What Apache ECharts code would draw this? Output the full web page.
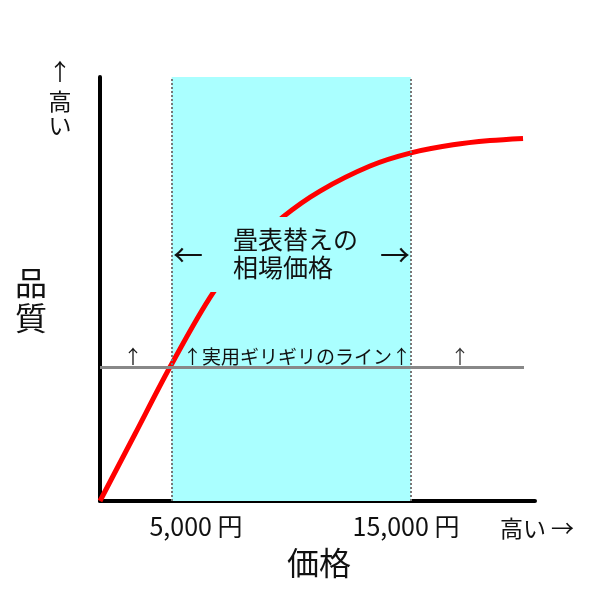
<!DOCTYPE html>
<html><head><meta charset="utf-8">
<script src="https://cdn.jsdelivr.net/npm/echarts@6/dist/echarts.min.js"></script>
<style>html,body{margin:0;padding:0;background:#fff}#c{width:600px;height:600px}</style>
</head><body><div id="c"></div>
<script>
// price (conceptual yen scale) and quality (0-100)
const priceX = [2000, 3464, 4929, 6728, 8276, 9657, 11205, 13297, 15012, 16770, 18318, 19699];
const quality = [0, 15.8, 31.6, 49.1, 59.7, 67.0, 73.1, 79.0, 82.1, 84.0, 85.0, 85.5];
const bandRange = [5000, 15000];
const minimumQuality = 31.6;
const minimumLineRange = [2000, 19740];
const tickLabels = ['5,000 円', '15,000 円'];
const bandLabel = ['畳表替えの', '相場価格'];
const minimumLabel = '↑実用ギリギリのライン↑';

const FONT = '"Noto Sans CJK JP", "Noto Sans", sans-serif';
const chart = echarts.init(document.getElementById('c'));
function txt(x, y, s, size, align, color, z) {
  return { type: 'text', x: x, y: y, z: z || 100,
    style: { text: s, fontSize: size, fontFamily: FONT, fill: color || '#111',
      textAlign: align || 'center', textVerticalAlign: 'middle' } };
}
chart.setOption({
  animation: false,
  grid: { left: 100, right: 65, top: 77, bottom: 99 },
  xAxis: { type: 'value', min: 2000, max: 20200,
    axisLine: { show: true, onZero: false, lineStyle: { color: '#000', width: 4 } },
    axisTick: { show: false }, axisLabel: { show: false }, splitLine: { show: false } },
  yAxis: { type: 'value', min: 0, max: 100,
    axisLine: { show: true, onZero: false, lineStyle: { color: '#000', width: 4 } },
    axisTick: { show: false }, axisLabel: { show: false }, splitLine: { show: false } },
  series: [
    { type: 'line', data: [], z: 1, silent: true,
      markArea: { silent: true, itemStyle: { color: '#aaffff' },
        data: [[{ xAxis: bandRange[0] }, { xAxis: bandRange[1] }]] },
      markLine: { silent: true, symbol: 'none', label: { show: false },
        data: [
          { xAxis: bandRange[0], lineStyle: { color: '#777', width: 2, type: [2, 2] } },
          { xAxis: bandRange[1], lineStyle: { color: '#777', width: 2, type: [2, 2] } },
          [{ coord: [minimumLineRange[0], minimumQuality], lineStyle: { color: '#888', width: 3, type: 'solid' } },
           { coord: [minimumLineRange[1], minimumQuality] }]
        ] } },
    { type: 'line', z: 3, smooth: 0.3, symbol: 'none',
      lineStyle: { color: '#ff0000', width: 5 },
      data: priceX.map((x, i) => [x, quality[i]]) }
  ],
  graphic: [
    { type: 'rect', z: 50, shape: { x: 208, y: 217, width: 165, height: 75 }, style: { fill: '#aaffff' } },
    txt(60, 71, '↑', 23), txt(60, 101, '高', 23), txt(60, 125, 'い', 23),
    txt(31, 283, '品', 32), txt(31, 318, '質', 32),
    txt(196, 526, tickLabels[0], 25), txt(406, 526, tickLabels[1], 25),
    txt(537, 528, '高い →', 23),
    txt(319, 563, '価格', 32),
    txt(233, 239, bandLabel[0], 25, 'left'), txt(233, 267, bandLabel[1], 25, 'left'),
    txt(188, 255, '←', 30), txt(395, 255, '→', 30),
    txt(133, 357, '↑', 19), txt(183, 357, minimumLabel, 19, 'left'), txt(460, 357, '↑', 19, 'center', '#333')
  ]
});
</script></body></html>
